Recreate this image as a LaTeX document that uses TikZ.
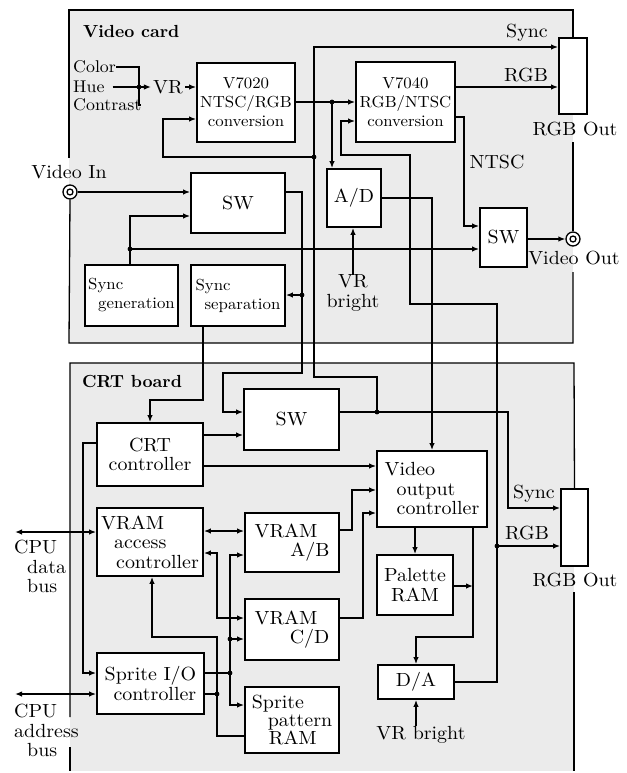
\documentclass[tikz,border=0pt]{standalone}
\usepackage{fontspec}
\setmainfont{lmroman10-regular.otf}[FakeStretch=1.05, BoldFont=lmroman10-bold.otf]
\newfontfamily\titlefont{lmroman10-bold.otf}
\usetikzlibrary{arrows.meta}
\begin{document}
\begin{tikzpicture}[x=1pt,y=-1pt,
  every node/.style={font=\fontsize{19}{19.5}\selectfont, inner sep=0pt},
  box/.style={draw, line width=1.8pt, fill=white, align=center},
  smalltext/.style={font=\fontsize{16}{19}\selectfont},
  labeltext/.style={font=\fontsize{17}{19}\selectfont},
  titletext/.style={font=\titlefont\fontsize{17.5}{20}\selectfont},
  wire/.style={line width=1.35pt},
  arr/.style={wire,-{Latex[length=7pt,width=5.5pt]}},
  darr/.style={wire,{Latex[length=7pt,width=5.5pt]}-{Latex[length=7pt,width=5.5pt]}},
  rarr/.style={wire,{Latex[length=7pt,width=5.5pt]}-},
  jdot/.style={circle, fill, inner sep=0pt, minimum size=4.8pt},
  frameline/.style={line width=1.3pt},
  jack/.style={circle, draw, line width=1.3pt, fill=white, minimum size=14pt},
  jackin/.style={circle, draw, line width=1.3pt, minimum size=6pt}]

\useasboundingbox (0,0) rectangle (626,773);

% panels
\fill[black!8] (69,10) rectangle (573,343);
\fill[black!8] (70,363) rectangle (574,771);

% ---------------- Video card boxes
\node[box, smalltext, minimum width=98pt, minimum height=79pt] (v7020) at (246,102.5) {V7020\\NTSC/RGB\\conversion};
\node[box, smalltext, minimum width=99pt, minimum height=80pt] (v7040) at (405.5,102) {V7040\\RGB/NTSC\\conversion};
\node[box, minimum width=94pt, minimum height=60pt] (sw1) at (238,203) {SW};
\node[box, minimum width=54pt, minimum height=58pt] (ad) at (354,198) {A/D};
\node[box, minimum width=47pt, minimum height=59pt] (sw2) at (503.5,237.5) {SW};
\node[box, smalltext, align=left, minimum width=93pt, minimum height=61pt] (syncgen) at (131.5,295.5) {Sync\\\hspace*{10pt}generation};
\node[box, smalltext, align=left, minimum width=94pt, minimum height=61pt] (syncsep) at (238,295.5) {Sync\\\hspace*{9pt}separation};
\node[box, minimum width=28pt, minimum height=76pt] (rgbout1) at (573,76) {};

% ---------------- CRT board boxes
\node[box, minimum width=106pt, minimum height=63pt] (crtc) at (150,454.5) {CRT\\controller};
\node[box, minimum width=95pt, minimum height=61pt] (sw3) at (291.5,419.5) {SW};
\node[box, align=left, minimum width=110pt, minimum height=76pt] (voc) at (432,489) {Video\\\hspace*{12pt}output\\\hspace*{12pt}controller};
\node[box, align=left, minimum width=106pt, minimum height=68pt] (vacc) at (150,542) {VRAM\\\hspace*{13pt}access\\\hspace*{15pt}controller};
\node[box, align=right, minimum width=94pt, minimum height=59pt] (vramab) at (292,542.5) {VRAM\hspace*{12pt}\\A/B};
\node[box, align=right, minimum width=94pt, minimum height=61pt] (vramcd) at (292,629.5) {VRAM\hspace*{12pt}\\C/D};
\node[box, minimum width=76pt, minimum height=60pt] (palette) at (415,585) {Palette\\RAM};
\node[box, minimum width=76pt, minimum height=34pt] (da) at (416,682) {D/A};
\node[box, align=right, minimum width=107pt, minimum height=61pt] (sprio) at (150.5,683.5) {Sprite I/O\\controller};
\node[box, align=left, minimum width=94pt, minimum height=66pt, font=\fontsize{19}{18}\selectfont] (sprpat) at (292,720) {Sprite\\\hspace*{16pt}pattern\\\hspace*{17pt}RAM};
\node[box, minimum width=27pt, minimum height=77pt] (rgbout2) at (574.5,527.5) {};

% jacks
\node[jack] (vin) at (70,192) {};
\node[jackin] (vinc) at (vin) {};
\node[jack] (vout) at (573,239) {};
\node[jackin] (voutc) at (vout) {};

% panel frames
\draw[frameline] (69,158) -- (69,10) -- (573,10) -- (rgbout1.north);
\draw[frameline] (573,142) -- (vout.north);
\draw[frameline] (573,272) -- (573,343) -- (69,343) -- (vin.south);
\draw[frameline] (70,717) -- (70,363) -- (574,363) -- (rgbout2.north);
\draw[frameline] (574,592) -- (574,771);
\draw[frameline] (70,747) -- (70,771);

% ---------------- labels
\node[titletext, anchor=west] (vctitle) at (83,31) {Video card};
\node[titletext, anchor=west] (crttitle) at (82,381) {CRT board};
\node[labeltext, anchor=west] (color) at (73,67) {Color};
\node[labeltext, anchor=west] (hue) at (73,87) {Hue};
\node[labeltext, anchor=west] (contrast) at (73,105) {Contrast};
\node[inner sep=2pt] (vr) at (168,87) {VR};
\node (vinl) at (69,172) {Video In};
\node (sync1) at (527,33) {Sync};
\node (rgb1) at (526,75) {RGB};
\node (rgbol1) at (575,129) {RGB Out};
\node (ntsc) at (497,162) {NTSC};
\node (voutl) at (574,258) {Video Out};
\node[align=center] (vrb1) at (353,293) {VR\\bright};
\node (sync2) at (534,494) {Sync};
\node (rgb2) at (527,533) {RGB};
\node (rgbol2) at (575,580) {RGB Out};
\node (vrb2) at (421,735) {VR bright};
\node[anchor=north west, align=left] (cpudl) at (14,540) {CPU\\\hspace*{13pt}data\\\hspace*{13pt}bus};
\node[anchor=north west, align=left] (cpual) at (14,704) {CPU\\address\\\hspace*{13pt}bus};

% ---------------- Video card wiring
\coordinate (brk) at (139,87);
\draw[wire] (color.east) -- (color.east -| brk) -- (contrast.east -| brk) -- (contrast.east);
\draw[wire] ([xshift=8pt]hue.east) -- (brk);
\draw[arr] (brk) -- (vr.west);
\node[jdot] (dbrk) at (brk) {};
\draw[arr] (vr.east) -- (vr.east -| v7020.west);

\draw[arr] (v7020.east |- 0,102) -- (v7040.west |- 0,102);
\coordinate (adtap) at (332,102);
\node[jdot] (dadtap) at (adtap) {};
\draw[arr] (adtap) -- (adtap |- ad.north);

\coordinate (cs) at (377,412);
\draw[arr] (cs) -- (377,377) -- (314,377) -- (314,47) -- (rgbout1.west |- 0,47);
\coordinate (fb) at (314,157);
\node[jdot] (dfb) at (fb) {};
\draw[arr] (fb) -- (163,157) -- (163,119) -- (v7020.west |- 0,119);

\draw[arr] (v7040.east |- 0,87) -- (rgbout1.west |- 0,87);
\draw[arr] (v7040.east |- 0,117) -- (464,117) -- (464,226) -- (sw2.west |- 0,226);
\draw[arr] (sw2.east |- vout) -- (vout.west);
\draw[arr] (vin.east) -- (vin.east -| sw1.west);

\coordinate (sg) at (130,249);
\draw[arr] (syncgen.north -| sg) -- (130,216) -- (sw1.west |- 0,216);
\draw[arr] (sg) -- (sw2.west |- sg);
\node[jdot] (dsg) at (sg) {};

\coordinate (ss) at (302,295);
\draw[arr] (sw1.east |- 0,192) -- (302,192) -- (302,373) -- (223,373) -- (223,412) -- (sw3.west |- 0,412);
\draw[arr] (ss) -- (ss -| syncsep.east);
\node[jdot] (dss) at (ss) {};
\draw[arr] (syncsep.south -| 203,0) -- (203,400) -- (150,400) -- (crtc.north);

\draw[arr] (vrb1.north) -- (vrb1.north |- ad.south);
\draw[arr] (ad.east) -- (432,198) -- (voc.north);

\coordinate (rgbtap) at (497,546);
\draw[arr] (da.east) -- (497,682) -- (497,304) -- (410,304) -- (410,155) -- (341,155) -- (341,121) -- (v7040.west |- 0,121);
\draw[arr] (rgbtap) -- (rgbout2.west |- rgbtap);
\node[jdot] (drgbtap) at (rgbtap) {};

% ---------------- CRT board wiring
\draw[arr] (sw3.east |- 0,412) -- (508,412) -- (508,508) -- (rgbout2.west |- 0,508);
\node[jdot] (dcs) at (cs) {};
\draw[arr] (crtc.east |- 0,435) -- (sw3.west |- 0,435);
\draw[arr] (crtc.east |- 0,466) -- (voc.west |- 0,466);
\draw[arr] (crtc.west |- 0,443) -- (83,443) -- (83,673) -- (sprio.west |- 0,673);
\draw[arr] (voc.south -| 415,0) -- (palette.north -| 415,0);
\draw[arr] (voc.south -| 473,0) -- (473,637) -- (416,637) -- (da.north);
\draw[arr] (palette.east |- 0,586) -- (473,586);
\draw[arr] (vrb2.north -| da.south) -- (da.south);
\draw[arr] (vramab.east |- 0,530) -- (352,530) -- (352,490) -- (voc.west |- 0,490);
\draw[arr] (vramcd.east |- 0,618) -- (363,618) -- (363,513) -- (voc.west |- 0,513);
\draw[darr] (vacc.east |- 0,531) -- (vramab.west |- 0,531);
\draw[darr] (vacc.east |- 0,553) -- (217,553) -- (217,618) -- (vramcd.west |- 0,618);
\draw[darr] (vramab.west |- 0,555) -- (230,555) -- (230,705) -- (sprpat.west |- 0,705);
\coordinate (b1) at (230,639);
\draw[arr] (b1) -- (vramcd.west |- b1);
\node[jdot] (db1) at (b1) {};
\coordinate (b2) at (230,673);
\draw[wire] (sprio.east |- b2) -- (b2);
\node[jdot] (db2) at (b2) {};
\coordinate (b3) at (217,694);
\draw[wire] (sprio.east |- b3) -- (b3);
\node[jdot] (db3) at (b3) {};
\draw[rarr] (vacc.south -| 152,0) -- (152,637) -- (217,637) -- (217,736) -- (sprpat.west |- 0,736);

\coordinate (cpu1) at (15,532);
\draw[darr] (cpu1) -- (vacc.west |- cpu1);
\coordinate (cpu2) at (15,694);
\draw[darr] (cpu2) -- (sprio.west |- cpu2);
\end{tikzpicture}
\end{document}
